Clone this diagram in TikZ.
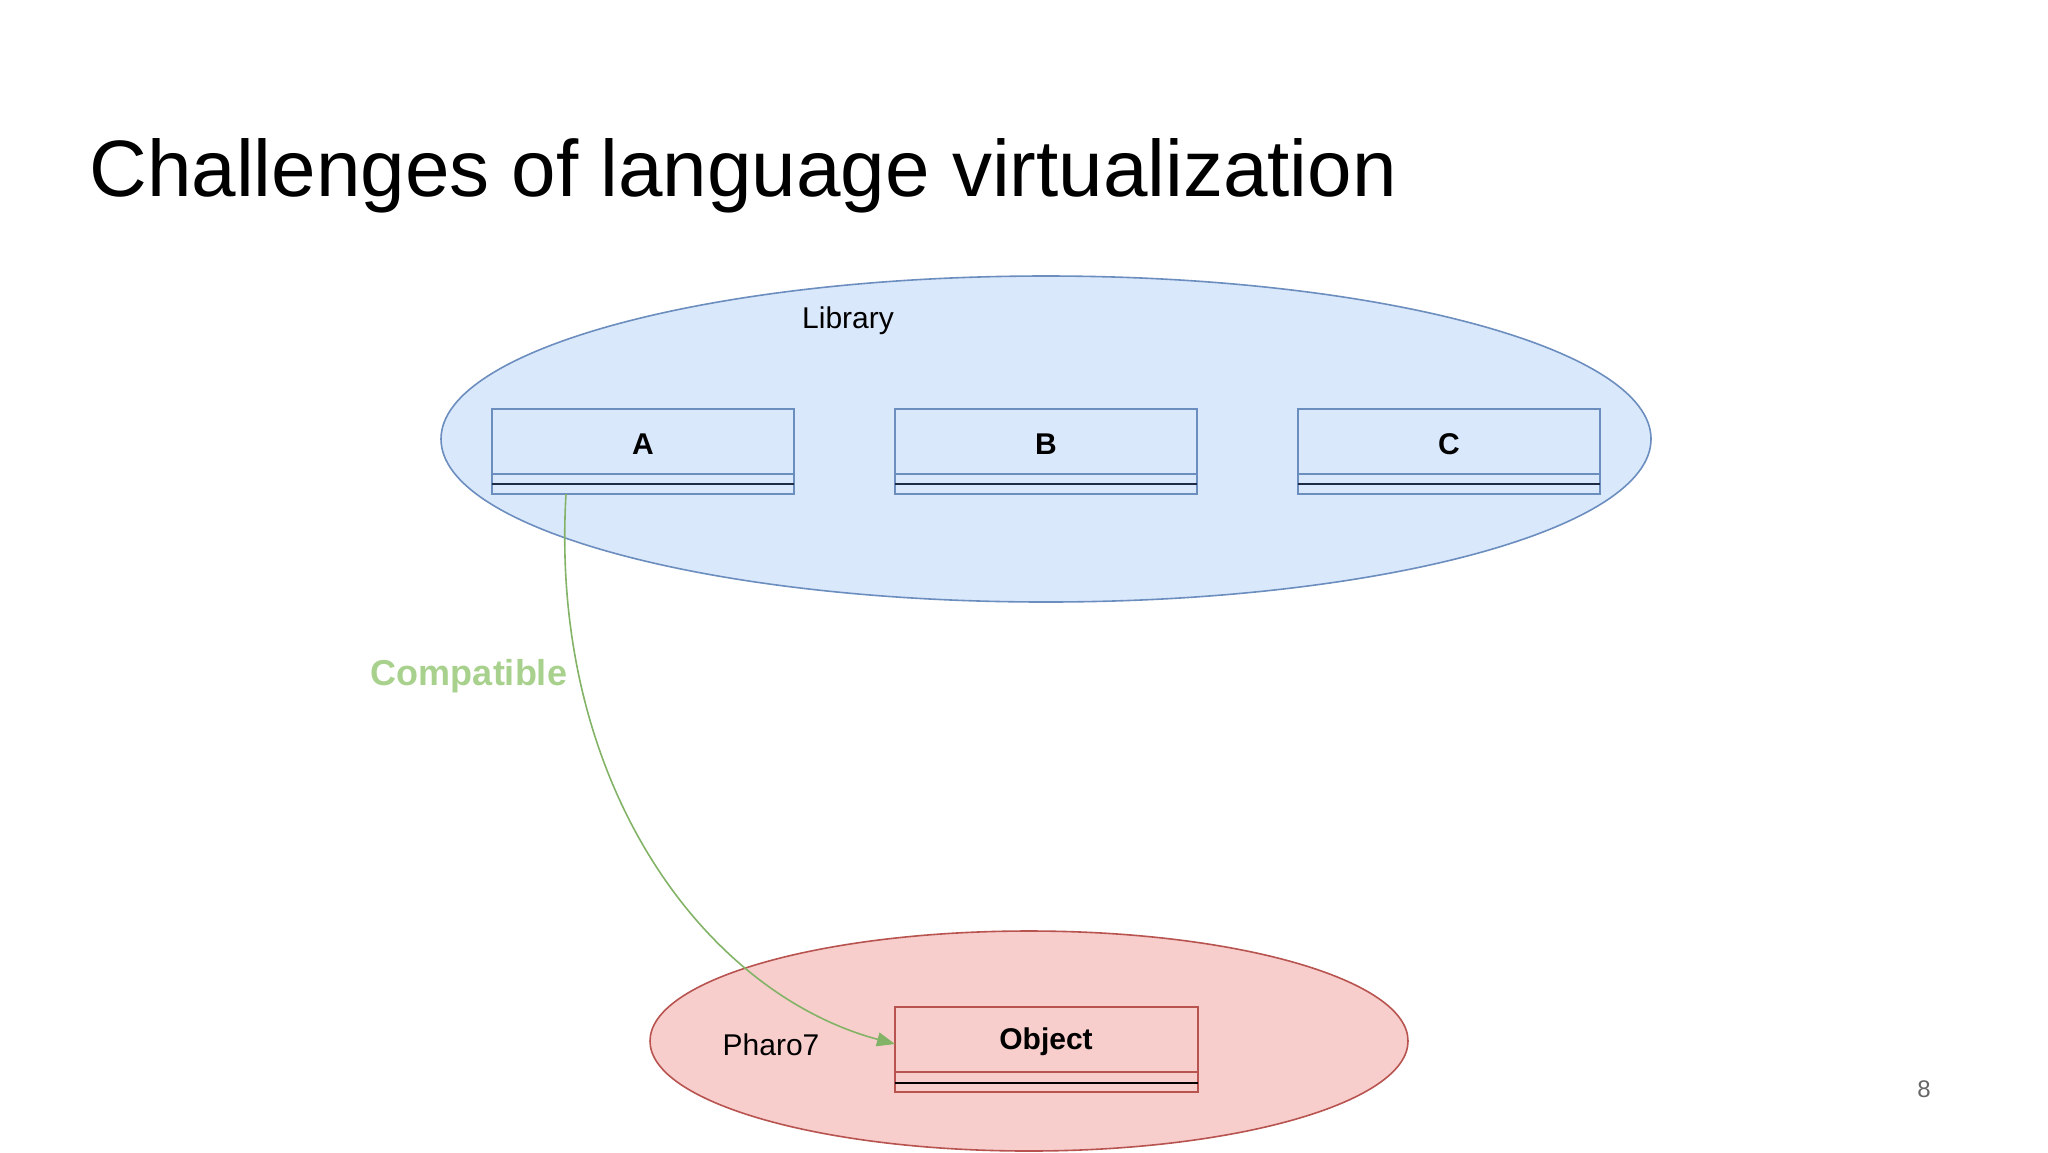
\documentclass[tikz,border=0pt]{standalone}
\usepackage{fontspec}
\setmainfont{Liberation Sans}
\usetikzlibrary{arrows.meta}
\definecolor{bfill}{HTML}{DAE8FC}\definecolor{bdraw}{HTML}{6C8EBF}
\definecolor{rfill}{HTML}{F8CECC}\definecolor{rdraw}{HTML}{B85450}
\definecolor{gline}{HTML}{82B366}\definecolor{gtext}{HTML}{A9D18E}
\definecolor{bdark}{HTML}{1F2A44}
\begin{document}
\begin{tikzpicture}[x=0.5pt,y=-0.5pt,
  cls/.style={font=\bfseries\fontsize{15}{17}\selectfont}]
\useasboundingbox (0,0) rectangle (2048,1152);
\node[anchor=base west,font=\fontsize{40}{46}\selectfont,inner sep=0] (title) at (89,196) {Challenges of language virtualization};
\draw[bdraw,fill=bfill,line width=0.8pt] (1046,439) ellipse [x radius=605,y radius=163];
\node[font=\fontsize{15}{18}\selectfont] (lib) at (848,321) {Library};
\foreach \n/\x/\t in {a/492/A,b/895/B,c/1298/C}{
  \draw[bdraw,line width=0.8pt] (\x,409) rectangle ++(302,85);
  \draw[bdraw,line width=0.8pt] (\x,474) -- ++(302,0);
  \draw[bdark,line width=1.3pt] (\x,484) -- ++(302,0);
  \node[cls] (\n) at (\x+151,444) {\t};
}
\coordinate (astart) at (566,494);
\draw[rdraw,fill=rfill,line width=0.8pt] (1029,1041) ellipse [x radius=379,y radius=110];
\node[font=\fontsize{15}{18}\selectfont] (ph) at (771,1045) {Pharo7};
\draw[rdraw,line width=0.8pt] (895,1007) rectangle (1198,1092);
\draw[rdraw,line width=0.8pt] (895,1072) -- (1198,1072);
\draw[black,line width=1.3pt] (895,1083) -- (1198,1083);
\node[cls] (obj) at (1046,1042) {Object};
\coordinate (oleft) at (895,1044);
\draw[gline,line width=0.8pt,-{Triangle[length=9pt,width=7pt]}] (astart) .. controls (549,784) and (705,993) .. (oleft);
\node[font=\bfseries\fontsize{18}{20}\selectfont,text=gtext] (comp) at (469,676) {Compatible};
\node[text=gray!80!black,font=\fontsize{12}{14}\selectfont] (pg) at (1924,1089) {8};
\end{tikzpicture}
\end{document}
